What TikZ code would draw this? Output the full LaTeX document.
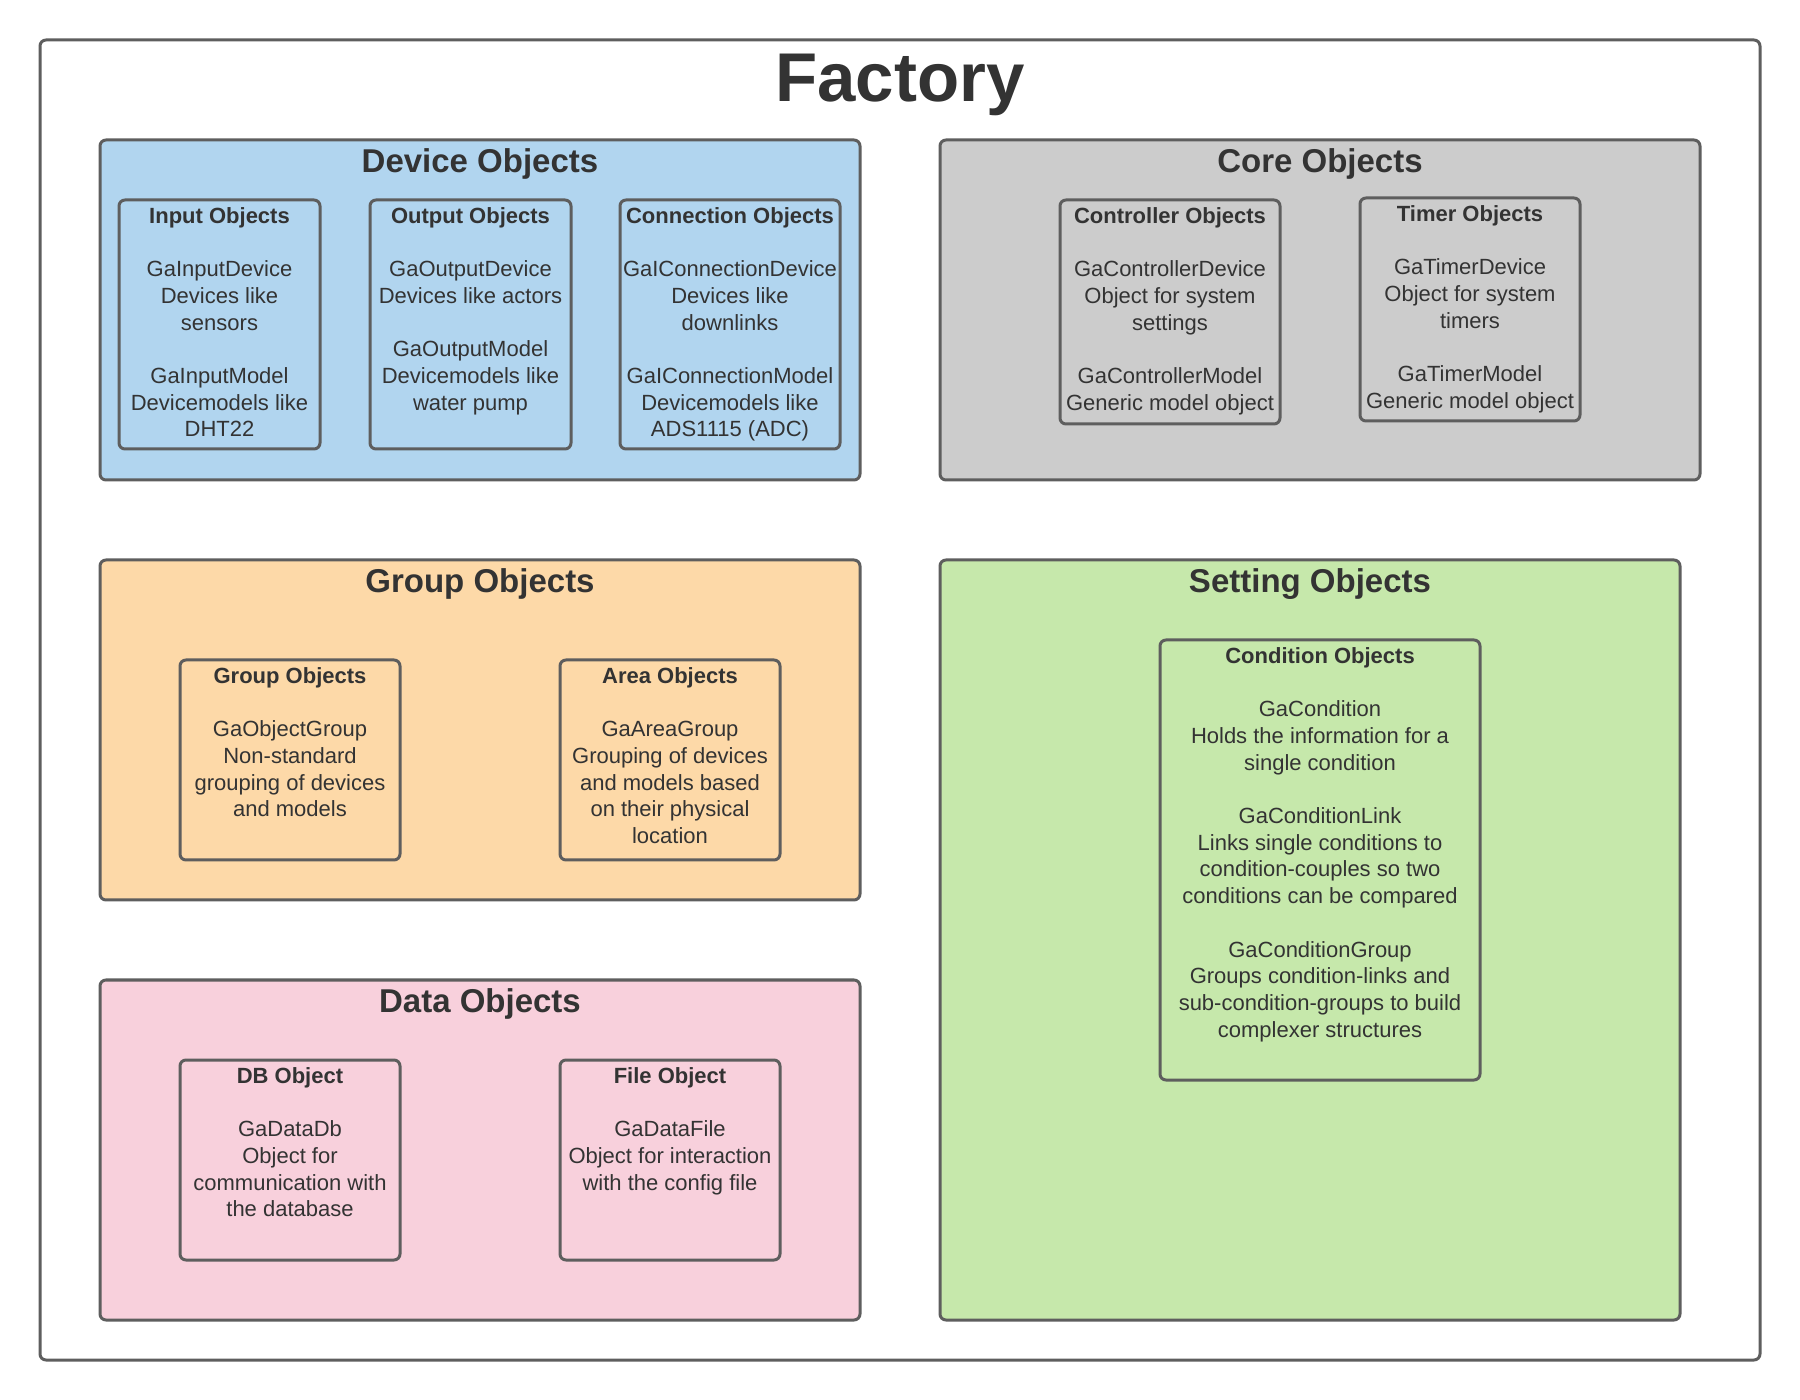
\documentclass[tikz,border=0pt]{standalone}
\usepackage{fontspec}
\setmainfont{Liberation Sans}
\usepackage{tikz}
\usetikzlibrary{calc}
\definecolor{linegray}{HTML}{5E5E5E}
\definecolor{textgray}{HTML}{333333}
\definecolor{devblue}{HTML}{B1D5EF}
\definecolor{coregray}{HTML}{CCCCCC}
\definecolor{grporange}{HTML}{FDD9A8}
\definecolor{setgreen}{HTML}{C6E8AB}
\definecolor{datpink}{HTML}{F8D0DC}
\tikzset{
  boxline/.style={draw=linegray, line width=1.5pt, rounded corners=3pt, anchor=north west, inner sep=0pt, outer sep=0pt},
  bigtitle/.style={text=textgray, font=\bfseries\fontsize{34.5}{41}\selectfont, anchor=north, inner sep=0pt},
  grouptitle/.style={text=textgray, font=\bfseries\fontsize{16.5}{20}\selectfont, anchor=north, inner sep=0pt},
  objtext/.style={text=textgray, font=\fontsize{11}{13.35}\selectfont, align=center, anchor=north, inner sep=0pt}
}
\newcommand{\blankln}{\\[13.35pt]}
\newcommand{\groupnode}[7]{\node[boxline, fill=#6, minimum width=#4, minimum height=#5] (#1) at (#2,#3) {};
  \node[grouptitle] (#1-title) at ([yshift=-4.1pt]#1.north) {#7};}
\newcommand{\objnode}[6]{\node[boxline, minimum width=#4, minimum height=#5] (#1) at (#2,#3) {};
  \node[objtext] (#1-txt) at ([yshift=-3.5pt]#1.north) {#6};}

\begin{document}
\begin{tikzpicture}[x=0.5pt, y=-0.5pt]
    \useasboundingbox (0,0) rectangle (1800,1400);
    %frame
    \node[boxline, fill=white, minimum width=860pt, minimum height=660pt] (factory) at (40,40) {};
    \node[bigtitle] (factory-title) at ([yshift=-6.6pt]factory.north) {Factory};
    
    %groups
    \groupnode{dev}{100}{140}{380pt}{170pt}{devblue}{Device Objects}
    \groupnode{core}{940}{140}{380pt}{170pt}{coregray}{Core Objects}
    \groupnode{grp}{100}{560}{380pt}{170pt}{grporange}{Group Objects}
    \groupnode{set}{940}{560}{370pt}{380pt}{setgreen}{Setting Objects}
    \groupnode{dat}{100}{980}{380pt}{170pt}{datpink}{Data Objects}
    
    %device objects
    \objnode{inp}{119}{200}{100.5pt}{124.5pt}{\textbf{Input Objects}\blankln GaInputDevice\\Devices like\\sensors\blankln GaInputModel\\Devicemodels like\\DHT22}
    \objnode{outp}{370}{200}{100.5pt}{124.5pt}{\textbf{Output Objects}\blankln GaOutputDevice\\Devices like actors\blankln GaOutputModel\\Devicemodels like\\water pump}
    \objnode{conn}{620}{200}{110pt}{124.5pt}{\textbf{Connection Objects}\blankln GaIConnectionDevice\\Devices like\\downlinks\blankln GaIConnectionModel\\Devicemodels like\\ADS1115 (ADC)}
    
    %core objects
    \objnode{ctrl}{1060}{200}{110pt}{112pt}{\textbf{Controller Objects}\blankln GaControllerDevice\\Object for system\\settings\blankln GaControllerModel\\Generic model object}
    \objnode{tmr}{1360}{198}{110pt}{111.5pt}{\textbf{Timer Objects}\blankln GaTimerDevice\\Object for system\\timers\blankln GaTimerModel\\Generic model object}
    
    %group objects
    \objnode{grpo}{180}{660}{110pt}{100pt}{\textbf{Group Objects}\blankln GaObjectGroup\\Non-standard\\grouping of devices\\and models}
    \objnode{area}{560}{660}{110pt}{100pt}{\textbf{Area Objects}\blankln GaAreaGroup\\Grouping of devices\\and models based\\on their physical\\location}
    
    %data objects
    \objnode{db}{180}{1060}{110pt}{100pt}{\textbf{DB Object}\blankln GaDataDb\\Object for\\communication with\\the database}
    \objnode{file}{560}{1060}{110pt}{100pt}{\textbf{File Object}\blankln GaDataFile\\Object for interaction\\with the config file}
    
    %setting objects
    \objnode{cond}{1160}{640}{160pt}{220pt}{\textbf{Condition Objects}\blankln GaCondition\\Holds the information for a\\single condition\blankln GaConditionLink\\Links single conditions to\\condition-couples so two\\conditions can be compared\blankln GaConditionGroup\\Groups condition-links and\\sub-condition-groups to build\\complexer structures}
    
\end{tikzpicture}
\end{document}
